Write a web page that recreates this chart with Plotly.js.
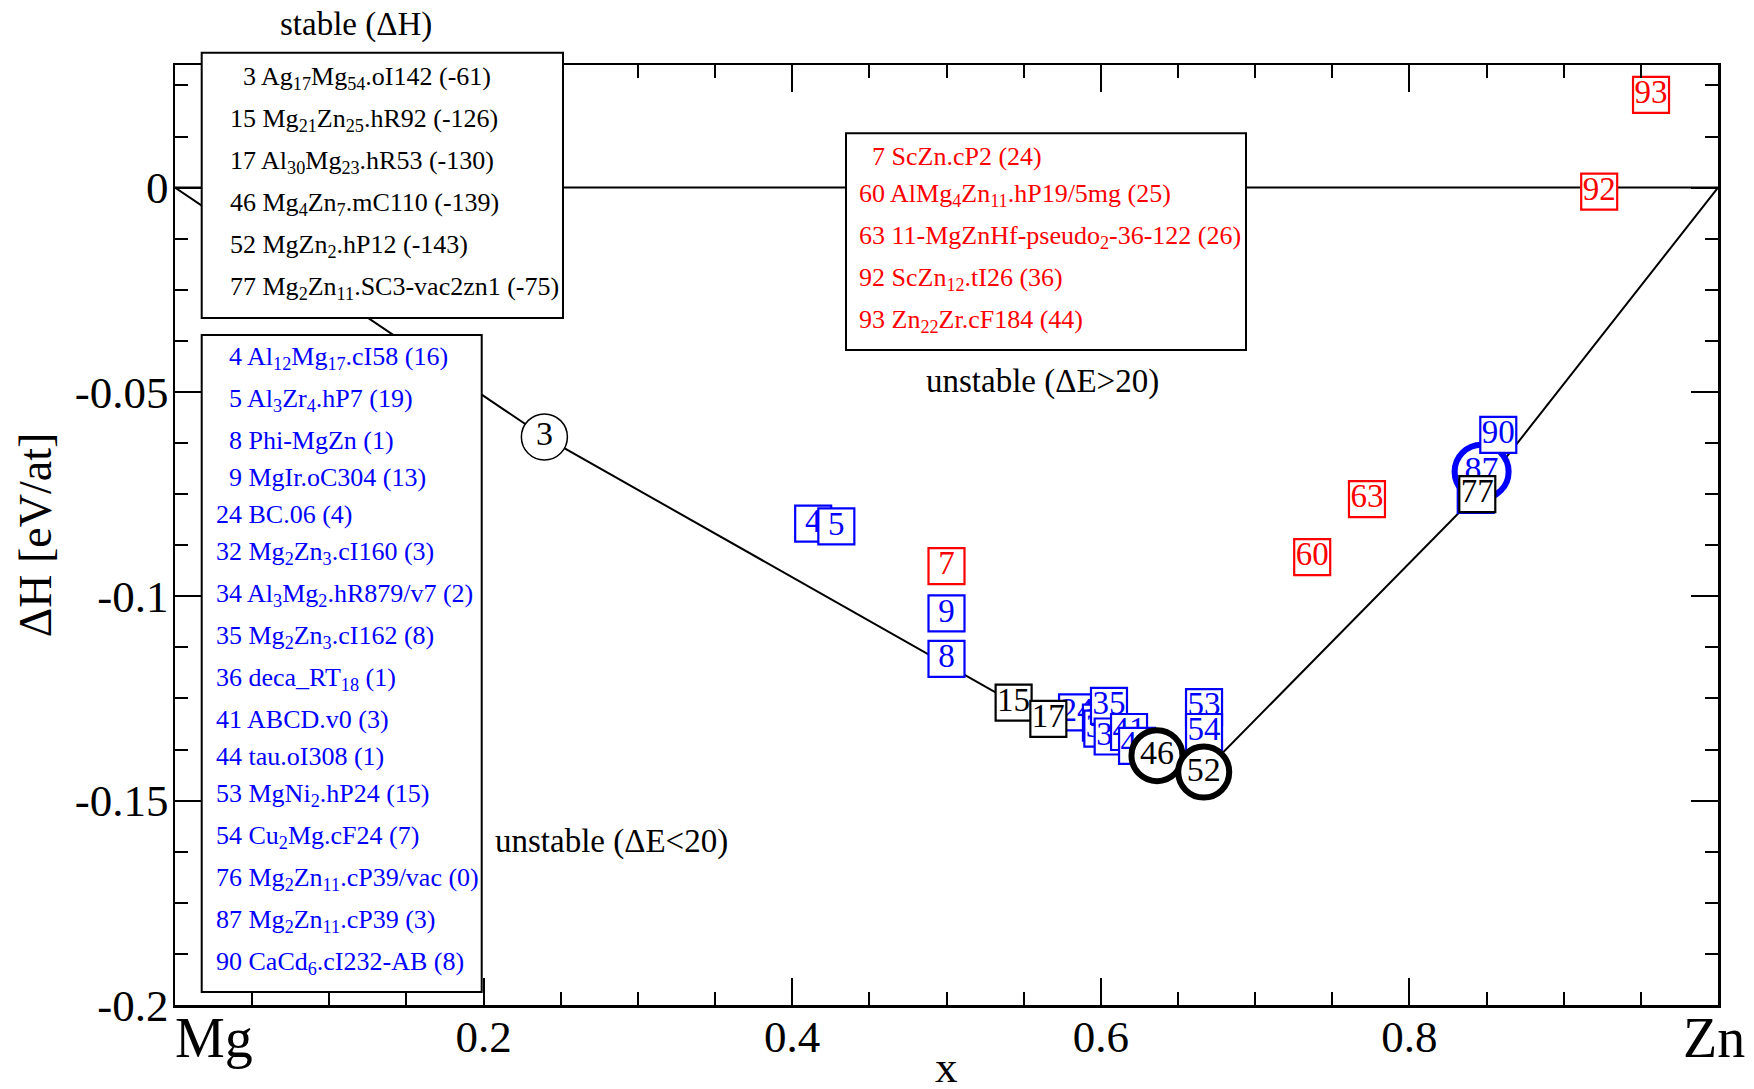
<!DOCTYPE html>
<html>
<head>
<meta charset="utf-8">
<script src="https://cdn.plot.ly/plotly-3.0.1.min.js"></script>
<style>
  html, body { margin: 0; padding: 0; background: #fff; }
  #chart { width: 1754px; height: 1089px; }
</style>
</head>
<body>
<div id="chart"></div>
<script>
// ---- Mg–Zn formation enthalpies (x = Zn fraction, ΔH in eV/atom) ----

// convex hull vertices
const hullX = [0, 0.2394, 0.5435, 0.5660, 0.6364, 0.6667, 0.8440, 1];
const hullY = [0, -0.061, -0.126, -0.130, -0.139, -0.143, -0.075, 0];

// ΔH = 0 reference line
const refX = [0, 1];
const refY = [0, 0];

// stable phases (ΔH in meV/atom)
const stableIds = [3, 15, 17, 46, 52, 77];
const stableNames = [
  'Ag<sub>17</sub>Mg<sub>54</sub>.oI142',
  'Mg<sub>21</sub>Zn<sub>25</sub>.hR92',
  'Al<sub>30</sub>Mg<sub>23</sub>.hR53',
  'Mg<sub>4</sub>Zn<sub>7</sub>.mC110',
  'MgZn<sub>2</sub>.hP12',
  'Mg<sub>2</sub>Zn<sub>11</sub>.SC3-vac2zn1'
];
const stableX = [0.2394, 0.5435, 0.5660, 0.6364, 0.6667, 0.8440];
const stableDH = [-61, -126, -130, -139, -143, -75];

// unstable, ΔE < 20 meV/atom above the hull
const nearIds = [4, 5, 8, 9, 24, 32, 34, 35, 36, 41, 44, 53, 54, 76, 87, 90];
const nearNames = [
  'Al<sub>12</sub>Mg<sub>17</sub>.cI58',
  'Al<sub>3</sub>Zr<sub>4</sub>.hP7',
  'Phi-MgZn',
  'MgIr.oC304',
  'BC.06',
  'Mg<sub>2</sub>Zn<sub>3</sub>.cI160',
  'Al<sub>3</sub>Mg<sub>2</sub>.hR879/v7',
  'Mg<sub>2</sub>Zn<sub>3</sub>.cI162',
  'deca_RT<sub>18</sub>',
  'ABCD.v0',
  'tau.oI308',
  'MgNi<sub>2</sub>.hP24',
  'Cu<sub>2</sub>Mg.cF24',
  'Mg<sub>2</sub>Zn<sub>11</sub>.cP39/vac',
  'Mg<sub>2</sub>Zn<sub>11</sub>.cP39',
  'CaCd<sub>6</sub>.cI232-AB'
];
const nearDE = [16, 19, 1, 13, 4, 3, 2, 8, 1, 3, 1, 15, 7, 0, 3, 8];
const nearX = [0.4136, 0.4286, 0.5000, 0.5000, 0.5846, 0.6001, 0.6010, 0.6053,
               0.6077, 0.6183, 0.6235, 0.6669, 0.6669, 0.8430, 0.8468, 0.8576];
const nearY = [-0.0822, -0.0829, -0.1153, -0.1042, -0.1284, -0.1309, -0.1324, -0.1268,
               -0.1343, -0.1332, -0.1366, -0.1271, -0.1332, -0.0752, -0.0695, -0.0605];

// unstable, ΔE > 20 meV/atom above the hull
const farIds = [7, 60, 63, 92, 93];
const farNames = [
  'ScZn.cP2',
  'AlMg<sub>4</sub>Zn<sub>11</sub>.hP19/5mg',
  '11-MgZnHf-pseudo<sub>2</sub>-36-122',
  'ScZn<sub>12</sub>.tI26',
  'Zn<sub>22</sub>Zr.cF184'
];
const farDE = [24, 25, 26, 36, 44];
const farX = [0.5000, 0.7370, 0.7725, 0.9230, 0.9566];
const farY = [-0.0926, -0.0904, -0.0762, -0.0010, 0.0227];

// axis ticks
const xTickVals = [0.2, 0.4, 0.6, 0.8];
const xTickText = ['0.2', '0.4', '0.6', '0.8'];
const yTickVals = [0, -0.05, -0.1, -0.15, -0.2];
const yTickText = ['0', '-0.05', '-0.1', '-0.15', '-0.2'];

// ---- drawing ----
const SERIF = 'Liberation Serif, Times New Roman, serif';
const BLUE = '#0000ff', RED = '#ff0000', BLACK = '#000000';

// plot-area frame in page pixels, used to place boxes and notes
const FRAME = { l: 175, r: 1718, t: 65, b: 1005 };
const W = 1754, H = 1089;
const px = v => (v - FRAME.l) / (FRAME.r - FRAME.l);
const py = v => (FRAME.b - v) / (FRAME.b - FRAME.t);

// ring-style markers for a few phases; everything else is a square
const rings = {
  3:  { size: 46, width: 1.5 },
  46: { size: 51, width: 6 },
  52: { size: 51, width: 6 },
  87: { size: 54, width: 6 }
};

function pointTrace(id, x, y, color) {
  const ring = rings[id];
  return {
    type: 'scatter',
    x: [x], y: [y],
    mode: 'markers+text',
    text: [String(id)],
    textposition: 'middle center',
    textfont: { family: SERIF, size: ring ? 34 : 33, color: color },
    marker: ring
      ? { symbol: 'circle', size: ring.size, color: 'white', line: { color: color, width: ring.width } }
      : { symbol: 'square', size: 36, color: 'white', line: { color: color, width: 2.2 } },
    hoverinfo: 'skip',
    cliponaxis: false,
    showlegend: false
  };
}

const traces = [
  { type: 'scatter', x: refX, y: refY, mode: 'lines', line: { color: BLACK, width: 2 }, hoverinfo: 'skip', showlegend: false },
  { type: 'scatter', x: hullX, y: hullY, mode: 'lines', line: { color: BLACK, width: 2 }, hoverinfo: 'skip', showlegend: false }
];
nearIds.forEach((id, i) => traces.push(pointTrace(id, nearX[i], nearY[i], BLUE)));
farIds.forEach((id, i) => traces.push(pointTrace(id, farX[i], farY[i], RED)));
stableIds.forEach((id, i) => traces.push(pointTrace(id, stableX[i], stableDH[i] / 1000, BLACK)));

// legend boxes with their lines of text
const shapes = [];
const annotations = [];
const LEG_FONT = 26;

function legendBox(box, ids, names, vals, color) {
  shapes.push({
    type: 'rect', xref: 'paper', yref: 'paper', layer: 'above',
    x0: px(box.x0), x1: px(box.x1), y0: py(box.y1), y1: py(box.y0),
    fillcolor: 'white', line: { color: BLACK, width: 2 }
  });
  let base = box.firstBase;
  ids.forEach((id, i) => {
    const indent = String(id).length < 2 ? LEG_FONT * 0.5 : 0;
    annotations.push({
      xref: 'paper', yref: 'paper',
      x: px(box.textX + indent), y: py(base - 0.891 * LEG_FONT),
      xanchor: 'left', yanchor: 'top',
      showarrow: false, borderpad: 0, borderwidth: 0,
      text: id + ' ' + names[i] + ' (' + vals[i] + ')',
      font: { family: SERIF, size: LEG_FONT, color: color }
    });
    base += names[i].indexOf('<sub>') >= 0 ? 42 : 37;
  });
}

legendBox({ x0: 201.7, y0: 52.7, x1: 563, y1: 318, textX: 230, firstBase: 85 },
          stableIds, stableNames, stableDH, BLACK);
legendBox({ x0: 201.7, y0: 335, x1: 481.7, y1: 992, textX: 216, firstBase: 365 },
          nearIds, nearNames, nearDE, BLUE);
legendBox({ x0: 846, y0: 133.3, x1: 1246, y1: 350, textX: 859, firstBase: 165 },
          farIds, farNames, farDE, RED);

function note(text, x, y, size, xanchor, yanchor) {
  annotations.push({
    xref: 'paper', yref: 'paper', x: px(x), y: py(y),
    xanchor: xanchor || 'center', yanchor: yanchor || 'middle',
    showarrow: false, borderpad: 0, borderwidth: 0,
    text: text, font: { family: SERIF, size: size, color: BLACK }
  });
}
note('stable (ΔH)', 356, 25, 33);
note('unstable (ΔE&gt;20)', 1042, 381, 33);
note('unstable (ΔE&lt;20)', 611, 841, 33);
// end-member labels on the composition axis
note('Mg', 175, 1007, 56, 'left', 'top');
note('Zn', 1714, 1007, 56, 'center', 'top');
// composition axis title, placed below the tick labels
note('x', 946, 1067, 45);

const axisCommon = {
  showline: true, linecolor: BLACK, linewidth: 2.5, mirror: 'ticks',
  ticks: 'inside', ticklen: 27, tickwidth: 2, tickcolor: BLACK,
  showgrid: false, zeroline: false,
  tickmode: 'array',
  tickfont: { family: SERIF, size: 45, color: BLACK }
};

const layout = {
  width: W, height: H,
  margin: { l: FRAME.l, r: W - FRAME.r, t: FRAME.t, b: H - FRAME.b },
  paper_bgcolor: 'white', plot_bgcolor: 'white',
  font: { family: SERIF, color: BLACK },
  showlegend: false,
  xaxis: Object.assign({}, axisCommon, {
    range: [0, 1], tickvals: xTickVals, ticktext: xTickText,
    ticklabelstandoff: -10,
    minor: { tickmode: 'linear', tick0: 0, dtick: 0.05, ticks: 'inside', ticklen: 13, tickwidth: 2, tickcolor: BLACK, showgrid: false }
  }),
  yaxis: Object.assign({}, axisCommon, {
    range: [-0.2, 0.03], tickvals: yTickVals, ticktext: yTickText,
    ticklabelstandoff: -5,
    minor: { tickmode: 'linear', tick0: 0, dtick: 0.0125, ticks: 'inside', ticklen: 13, tickwidth: 2, tickcolor: BLACK, showgrid: false },
    title: { text: 'ΔH [eV/at]', font: { family: SERIF, size: 46, color: BLACK }, standoff: 9 }
  }),
  shapes: shapes,
  annotations: annotations
};

Plotly.newPlot('chart', traces, layout, { staticPlot: true, displayModeBar: false });
</script>
</body>
</html>
